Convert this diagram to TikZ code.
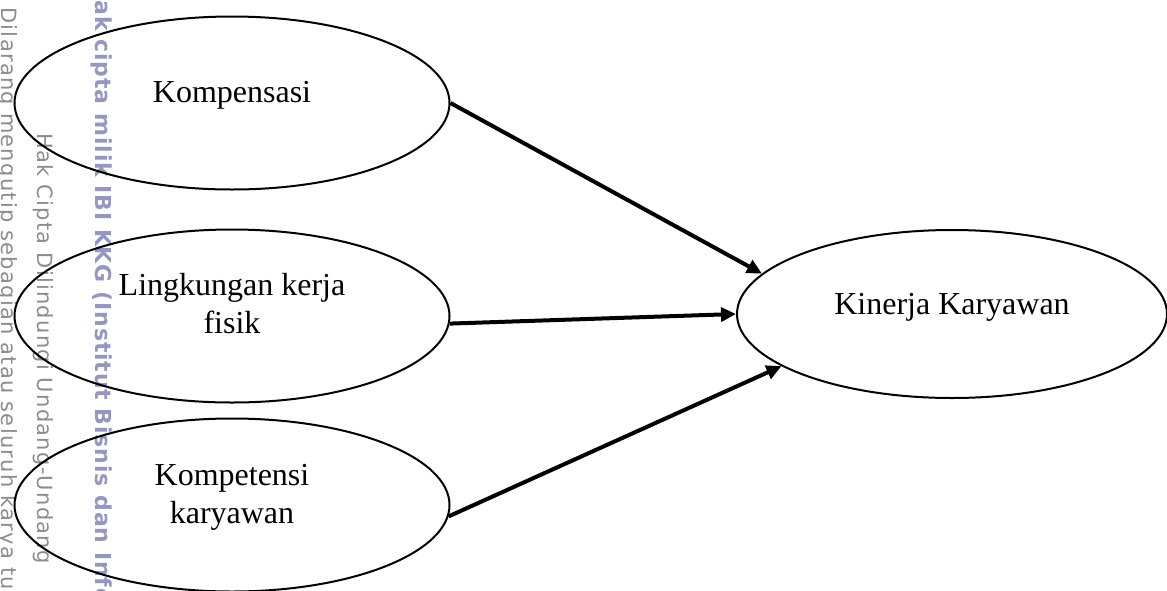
\documentclass[tikz,border=0pt]{standalone}
\usepackage{fontspec}
\setmainfont{Liberation Serif}
\newfontfamily\wmfont[LetterSpace=6]{DejaVu Sans}
\newfontfamily\wmboldfont[LetterSpace=4]{DejaVu Sans}
\usetikzlibrary{arrows.meta,shapes.geometric}

\definecolor{wmgray}{RGB}{140,140,140}
\definecolor{wmblue}{RGB}{150,150,195}

\begin{document}
\begin{tikzpicture}[x=0.5pt,y=-0.5pt,>={Triangle[length=7.5pt,width=7pt]}]
\tikzstyle{var}=[draw, line width=1pt, ellipse, inner sep=0pt, minimum width=217.5pt, minimum height=86.5pt]
\tikzstyle{lbl}=[font=\fontsize{16}{19}\selectfont, align=center, inner sep=0pt, anchor=base]
\tikzstyle{wm}=[rotate=-90, anchor=base west, inner sep=0pt]
\tikzstyle{path}=[->, line width=2pt]

\useasboundingbox (0,0) rectangle (1167,590);

% watermark along the left edge
\begin{scope}
\clip (0,0) rectangle (1167,590);
\node[wm, text=wmgray, font=\wmfont\fontsize{10.5}{10.5}\selectfont] (wm1) at (2,7) {Dilarang mengutip sebagian atau seluruh karya tulis ini};
\node[wm, text=wmgray, font=\wmfont\fontsize{10.5}{10.5}\selectfont] (wm2) at (37,133) {Hak Cipta Dilindungi Undang-Undang};
\node[wm, text=wmblue, font=\wmboldfont\bfseries\fontsize{11}{11}\selectfont] (wm3) at (95,-19) {Hak cipta milik IBI KKG (Institut Bisnis dan Informatika Kwik Kian Gie)};
\end{scope}

\node[var] (komp) at (232,103) {};
\node[var] (ling) at (232,316) {};
\node[var] (kompt) at (232,505) {};
\node[var, minimum width=215pt, minimum height=84pt] (kin) at (952,314) {};

\node[lbl, yshift=0.5pt] (kompl) at (komp.center) {Kompensasi};
\node[lbl, yshift=-8.5pt] (lingl) at (ling.center) {Lingkungan kerja\\fisik};
\node[lbl, yshift=-9pt] (komptl) at (kompt.center) {Kompetensi\\karyawan};
\node[lbl] (kinl) at (kin.center) {Kinerja Karyawan};

\draw[path] (komp.east) -- (kin.168);
\draw[path] (ling.-2) -- (kin.west);
\draw[path] (kompt.-3) -- (kin.197);
\end{tikzpicture}
\end{document}
